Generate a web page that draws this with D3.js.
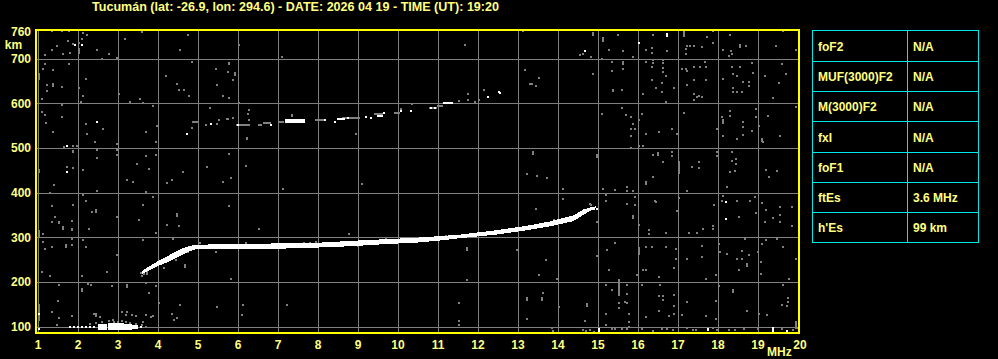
<!DOCTYPE html>
<html>
<head>
<meta charset="utf-8">
<script src="https://cdn.jsdelivr.net/npm/d3@7"></script>
<style>
  html, body { margin: 0; padding: 0; background: #000; }
  svg { display: block; }
  text { font-family: "Liberation Sans", Arial, sans-serif; font-weight: bold; }
</style>
</head>
<body>
<svg id="ionogram" width="998" height="359"></svg>
<script>
// ---- data ----
const title = "Tucumán (lat: -26.9, lon: 294.6) - DATE: 2026 04 19 - TIME (UT): 19:20";
const freqTicks = [1, 2, 3, 4, 5, 6, 7, 8, 9, 10, 11, 12, 13, 14, 15, 16, 17, 18, 19, 20];
const heightTicks = [100, 200, 300, 400, 500, 600, 700, 760];
const gridHeights = [100, 200, 300, 400, 500, 600, 700];

const paramNames = ["foF2", "MUF(3000)F2", "M(3000)F2", "fxI", "foF1", "ftEs", "h'Es"];
const paramValues = ["N/A", "N/A", "N/A", "N/A", "N/A", "3.6 MHz", "99 km"];

// main F trace (MHz, lower km, upper km)
const traceFreq = [3.62, 3.80, 4.00, 4.20, 4.40, 4.60, 4.80, 4.95, 5.50, 6.20, 7.00, 8.10, 8.90, 9.60, 10.50, 11.00, 11.60, 12.50, 13.20, 13.80, 14.40, 14.65, 14.80, 14.95];
const traceLow  = [218, 226, 235, 242, 251, 260, 268, 273, 273, 273, 274, 277, 280, 284, 288, 292, 298, 306, 315, 324, 336, 350, 358, 365];
const traceHigh = [225, 235, 246, 255, 265, 274, 280, 283, 284, 285, 286, 288, 292, 295, 299, 302, 306, 316, 325, 335, 349, 362, 366, 369];

// second hop echoes (white and grey pieces)
const hop2From = [5.32, 5.99, 6.80, 7.18, 8.15, 8.40, 8.48, 8.74, 9.18, 9.30, 9.48, 9.64, 10.06, 10.30, 10.80, 10.90, 11.14, 12.24, 12.54];
const hop2To   = [5.35, 6.04, 6.84, 7.67, 8.18, 8.44, 8.68, 8.77, 9.22, 9.33, 9.64, 9.67, 10.10, 10.33, 10.85, 10.95, 11.39, 12.27, 12.57];
const hop2Km   = [553, 552, 551, 560, 562, 559, 564, 566, 569, 567, 572, 579, 582, 583, 589, 589, 600, 613, 624];
const hop2Span = [4, 4, 4, 9, 4, 4, 4, 4, 4, 4, 4, 4, 4, 4, 4, 4, 5, 4, 4];
const hop2GreyFrom = [4.90, 5.74, 5.97, 6.50, 6.64, 7.00, 7.93, 8.60, 9.40, 9.90, 10.06, 10.78, 11.00, 11.52, 11.73, 11.73, 11.91, 12.00, 12.14, 14.80];
const hop2GreyTo   = [5.00, 5.80, 6.31, 6.60, 6.85, 7.14, 8.20, 9.06, 9.62, 10.06, 10.12, 10.98, 11.14, 11.56, 11.77, 11.77, 11.95, 12.04, 12.18, 14.86];
const hop2GreyKm   = [557, 564, 551, 551, 556, 557, 562, 566, 575, 579, 586, 589, 594, 605, 620, 607, 603, 607, 629, 372];

// sporadic E near 100 km
const esDotFreq = [1.80, 1.90, 2.00, 2.10, 2.20, 2.32, 2.40];
const esDotKm   = [100, 100, 100, 100, 100, 100, 100];
const esFrom = [2.52, 2.75, 2.90, 3.15, 3.35, 3.56];
const esTo   = [2.75, 2.90, 3.15, 3.35, 3.50, 3.62];
const esLow  = [93, 92, 91, 92, 94, 96];
const esHigh = [106, 108, 107, 106, 103, 101];
const esGrey = [[1.49, 103], [2.30, 106], [2.45, 108], [2.60, 110], [2.80, 112], [2.90, 110], [3.00, 110], [3.10, 112], [3.20, 109], [3.30, 108], [3.45, 106], [3.60, 103], [2.40, 128], [2.47, 124], [3.10, 133], [3.20, 126], [3.45, 124], [3.72, 126], [3.70, 99]];

// grey noise dots (MHz, km)
const noiseLow = [
  [1.35,761],[1.60,761],[1.79,761],[2.14,756],[2.23,752],[2.10,744],[1.77,739],[2.04,735],[2.04,720],[2.04,714],[1.88,732],[1.48,729],[1.35,719],[1.18,707],[1.64,711],[1.81,713],[2.49,720],[2.79,711],[2.99,702],[2.60,698],[3.18,743],[3.60,759],[4.56,720],[4.75,752],
  [1.18,687],[1.79,687],[1.39,674],[1.14,677],[2.21,655],[1.39,642],[1.39,638],[1.24,640],[1.60,637],[2.04,633],[1.23,627],[1.10,610],[1.60,598],[1.60,595],[2.14,616],[2.08,603],[3.04,620],[3.31,603],[3.56,609],[3.63,601],[4.85,692],[4.21,661],[4.49,642],[4.54,630],[4.66,629],[4.79,616],[5.49,640],[5.46,677],[5.64,616],
  [1.10,581],[1.18,573],[1.60,570],[1.21,555],[1.39,536],[2.21,553],[2.63,543],[2.23,531],[2.43,514],[1.89,503],[1.98,503],[1.66,501],[1.88,494],[1.88,490],[2.48,496],[2.99,508],[2.99,496],[3.96,512],[3.71,535],[3.98,549],[3.89,594],[4.89,557],[4.85,544],[5.21,551],[5.48,553],[5.54,563],[5.31,589],
  [1.41,417],[1.89,454],[2.14,451],[1.74,456],[2.49,477],[2.99,484],[3.71,482],[3.96,484],[3.49,464],[3.79,453],[4.64,447],[5.24,456],[5.63,424],[4.24,421],[4.35,427],[3.24,427],[3.39,424],[2.49,403],[1.31,398],[2.14,395],[2.21,382],[1.89,372],[1.35,369],
  [1.43,345],[1.54,335],[1.54,331],[1.35,334],[1.64,323],[1.64,319],[1.85,337],[1.85,319],[1.85,315],[2.29,319],[2.35,356],[2.46,360],[2.46,356],[2.99,346],[3.54,339],[3.64,373],[3.89,390],[3.71,402],[4.49,352],[4.49,348],[4.24,328],[4.54,324],[3.96,310],[4.39,297],
  [1.14,308],[1.14,289],[1.18,273],[1.35,278],[1.71,282],[1.71,279],[1.85,297],[1.85,283],[2.14,293],[2.21,278],[2.98,261],[3.64,293],[1.10,221],[1.31,213],[2.10,213],[2.10,184],[2.10,180],[1.54,194],[2.27,196],[2.33,192],[2.85,191],[3.24,192],[3.24,189],[3.71,198],[3.96,191],[3.79,176],
  [4.04,152],[4.56,148],[5.49,144],[5.54,278],[5.46,267],[4.68,237],[4.68,233],[3.66,221],[3.66,217],[3.74,222],[3.74,218],[2.73,221],[1.52,157],[1.35,133],[1.54,120],[1.85,124],[2.46,127],[2.56,122],[2.88,114],[3.35,126],[3.23,133],[3.64,111],[3.83,122],[3.89,124],[4.35,127],[4.49,118],[4.41,114],
  [3.58,219],[3.60,214],[4.15,232],[4.45,250],[4.75,266],[5.05,288]
];
const noiseMid = [
  [6.04,730],[7.10,703],[5.79,691],[5.79,687],[5.75,670],[5.93,668],[5.93,664],[5.89,652],[5.79,611],[6.04,601],[6.29,585],[6.27,575],[5.89,566],[6.29,563],[5.74,564],[7.35,574],[7.35,571],[6.24,523],[6.24,520],[8.96,531],
  [5.79,486],[6.20,460],[5.85,433],[9.10,418],[7.14,408],[5.79,369],[6.54,319],[8.79,306],[5.85,207],[6.14,148],[7.24,148],[6.10,126],[10.35,598],
  [5.75,283],[6.22,286],[7.66,288],[7.80,288],[7.95,289],[8.55,282],[9.02,281],[9.70,296],[10.20,296]
];
const noiseHigh = [
  [11.68,730],[13.14,761],[14.56,707],[14.64,711],[14.85,703],[15.10,698],[13.18,674],[13.54,656],[13.31,644],[13.35,644],[13.46,639],[14.89,666],[15.10,575],[13.24,442],[13.49,438],[13.74,433],[14.14,408],[14.14,386],[15.14,408],[15.20,395],[15.20,382],
  [13.45,363],[14.99,334],[14.81,375],[14.85,371],[12.99,271],[13.70,248],[13.54,216],[13.99,207],[13.64,176],[11.74,203],[14.99,257],[15.20,194],[15.20,129],[11.54,152],[11.54,112],[11.54,103],[13.24,164],[13.24,159],[13.60,164],[13.60,159],[14.04,143],[13.24,117],
  [14.70,112],[13.85,97],[13.89,90],[14.64,93],[14.72,90],[14.80,93],[14.90,88],[15.21,103],[11.20,302],[12.30,311],[13.10,319],[13.90,338]
];
const noiseTop = [
  [15.52,752],[16.39,752],[15.29,720],[15.64,717],[16.21,720],[16.35,724],[16.35,713],[16.74,717],[15.89,703],[17.23,729],[17.31,729],[17.41,729],[17.21,722],[17.21,709],[17.60,726],[17.74,749],[17.88,734],[17.89,761],[18.31,752],[18.13,719],[18.33,717],[18.35,711],[18.29,706],[18.71,729],[19.64,761],[19.46,729],[19.96,720],
  [15.35,692],[15.64,692],[15.64,687],[15.35,672],[15.64,677],[15.60,629],[16.21,692],[16.39,697],[16.39,689],[16.64,697],[16.64,689],[16.64,679],[16.64,670],[16.35,682],[16.71,661],[16.35,651],[16.60,645],[16.46,633],[16.91,633],[16.14,620],[16.60,625],[16.71,603],
  [17.10,677],[17.21,677],[17.24,672],[17.41,682],[17.56,682],[17.68,692],[17.71,682],[17.41,651],[17.24,640],[17.71,651],[17.41,620],[17.49,614],[17.62,613],[17.41,607],[17.54,616],[18.13,655],[18.35,682],[18.38,665],[18.48,661],[18.56,682],[18.38,635],[18.38,624],[18.49,625],[18.60,625],[18.64,648],[18.79,648],[18.79,639],[18.85,691],[18.89,668],[19.18,661],[19.54,646],[19.60,687],[19.71,665],[19.39,611]
];
const noiseUpper = [
  [15.60,589],[15.71,573],[15.85,568],[15.89,553],[15.85,542],[15.93,542],[15.83,527],[16.04,563],[16.10,575],[16.21,531],[16.54,536],[16.85,543],[16.99,531],[17.16,579],[18.10,570],[18.31,583],[18.31,572],[17.99,542],[18.14,527],[18.49,520],[18.64,557],[18.64,546],[18.64,529],[18.85,538],[18.96,587],[18.96,568],[19.04,548],[19.14,512],[19.27,572],[19.56,527],[19.96,592],
  [15.85,500],[16.04,505],[16.14,503],[16.39,484],[16.52,484],[16.52,488],[16.85,490],[16.85,481],[16.64,469],[17.35,456],[17.54,469],[17.54,454],[17.98,490],[17.98,481],[18.35,490],[18.35,471],[18.46,474],[18.31,447],[18.43,449],[18.46,464],[19.21,451],[19.49,449],[19.29,434],[16.39,434],[15.43,406],[15.74,412],[15.74,404],[15.89,404],[17.24,403],[18.24,412]
];
const noiseLower = [
  [15.74,375],[15.93,390],[15.93,372],[16.04,328],[16.29,315],[16.29,308],[16.71,310],[16.99,358],[17.04,387],[17.29,310],[17.49,310],[17.64,319],[17.91,372],[17.89,326],[17.89,319],[18.13,392],[18.10,380],[18.49,382],[18.54,345],[18.81,382],[18.93,390],[18.96,355],[19.10,377],[19.21,360],[19.18,335],[19.39,343],[19.56,367],[19.56,349],[19.56,335],[19.85,367],[19.85,325],[16.43,380],[16.46,378],
  [15.23,271],[15.43,288],[15.29,226],[16.21,278],[16.35,278],[16.71,278],[16.96,274],[16.13,226],[16.21,226],[16.54,211],[16.91,231],[16.96,252],[15.99,216],[17.24,252],[17.60,280],[17.60,256],[17.71,207],[17.96,215],[18.04,285],[18.06,267],[18.24,263],[18.49,252],[18.60,252],[18.60,268],[18.68,295],[18.54,226],[18.79,261],[19.02,267],[19.10,285],[19.08,245],[19.08,218],[19.21,293],[19.49,297],[19.64,278],[19.79,207],[19.96,252],
  [15.35,181],[15.74,194],[15.74,172],[15.68,154],[15.74,152],[15.54,152],[15.54,141],[15.79,129],[15.79,111],[15.79,100],[16.10,194],[16.21,122],[16.56,194],[16.54,168],[16.64,168],[16.64,159],[16.91,170],[16.91,146],[16.91,129],[16.79,124],[16.54,135],[17.23,154],[17.10,126],[17.71,124],[17.96,157],[17.96,117],[18.04,191],[18.73,135],[19.04,129],[19.24,126],[19.60,148],[19.77,164],[19.77,155],[19.73,146],[19.64,194],[19.96,111],
  [15.35,94],[15.43,94],[15.60,94],[15.74,94],[16.10,94],[16.39,89],[16.60,94],[16.73,94],[16.89,92],[17.23,96],[17.38,92],[17.46,92],[17.88,96],[17.98,92],[18.29,92],[18.43,92],[18.66,94],[19.02,94],[19.62,94],[19.89,92],[19.98,96]
];
const whiteDots = [[2.10,730],[1.94,730],[2.49,558],[4.74,531],[1.74,505],[1.74,447],[16.04,734],[18.21,378],[18.20,341],[14.68,717],[1.03,129],[1.03,94],[12.54,626],[14.90,364],[14.98,362]];

// vertical streaks (MHz, low km, high km)
const streakFreq = [1.03, 1.03, 1.03, 1.03, 2.04, 15.54, 18.39, 18.73, 17.04, 16.04, 15.39, 18.14, 16.22, 15.89, 19.10, 14.89, 15.14, 13.39, 14.98, 11.74, 14.74, 17.16, 18.56, 3.00, 19.96];
const streakLow  = [111, 300, 444, 653, 710, 170, 175, 232, 442, 259, 624, 553, 415, 340, 515, 750, 736, 484, 478, 268, 144, 748, 724, 96, 94];
const streakHigh = [150, 315, 453, 668, 724, 207, 184, 242, 471, 278, 631, 564, 425, 350, 523, 760, 748, 492, 486, 278, 152, 762, 733, 104, 110];
const whiteStreakFreq = [16.74, 19.39, 15.03, 17.76, 19.74];
const whiteStreakLow  = [750, 88, 88, 90, 88];
const whiteStreakHigh = [758, 99, 96, 96, 93];

// ---- drawing ----
const svg = d3.select("#ionogram");
const yellow = "#ffff00";
const label = "#ffff80";
const grey = "#808080";

const x = d3.scaleLinear().domain([1, 20]).range([37.5, 797.5]);
const y = d3.scaleLinear().domain([100, 700]).range([326.5, 58.5]);
const plotTop = 30, plotBottom = 333, plotLeft = 36, plotRight = 799;

svg.append("text")
  .attr("x", 92).attr("y", 11)
  .attr("fill", label).attr("font-size", 12)
  .attr("textLength", 407).attr("lengthAdjust", "spacingAndGlyphs")
  .text(title);

// grid (via axes)
const gridX = svg.append("g")
  .attr("transform", `translate(0,${plotBottom})`)
  .call(d3.axisBottom(x).tickValues(freqTicks).tickSize(-(plotBottom - plotTop)).tickFormat(""));
gridX.select(".domain").remove();
gridX.selectAll("line").attr("stroke", grey).attr("shape-rendering", "crispEdges");

const gridY = svg.append("g")
  .attr("transform", `translate(${plotLeft},0)`)
  .call(d3.axisLeft(y).tickValues(gridHeights).tickSize(-(plotRight - plotLeft)).tickFormat(""));
gridY.select(".domain").remove();
gridY.selectAll("line").attr("stroke", grey).attr("shape-rendering", "crispEdges");

// echoes
const plot = svg.append("g").attr("shape-rendering", "crispEdges");

const dot = (data, color) => plot.append("g").selectAll("rect").data(data).enter().append("rect")
  .attr("x", d => Math.round(x(d[0])) - 1)
  .attr("y", d => Math.round(y(d[1])) - 1)
  .attr("width", 2).attr("height", 2)
  .attr("fill", color);

[noiseLow, noiseMid, noiseHigh, noiseTop, noiseUpper, noiseLower, esGrey].forEach(n => dot(n, grey));

plot.append("g").selectAll("rect").data(streakFreq).enter().append("rect")
  .attr("x", d => Math.round(x(d)) - 1)
  .attr("y", (d, i) => Math.round(y(streakHigh[i])))
  .attr("width", 2)
  .attr("height", (d, i) => Math.max(2, Math.round(y(streakLow[i]) - y(streakHigh[i]))))
  .attr("fill", grey);

plot.append("g").selectAll("rect").data(hop2GreyFrom).enter().append("rect")
  .attr("x", d => Math.round(x(d)))
  .attr("y", (d, i) => Math.round(y(hop2GreyKm[i])) - 1)
  .attr("width", (d, i) => Math.max(2, Math.round(x(hop2GreyTo[i]) - x(d))))
  .attr("height", 2)
  .attr("fill", grey);

// main trace
const trace = traceFreq.map((f, i) => ({ f, lo: traceLow[i], hi: traceHigh[i] }));
plot.append("path")
  .datum(trace)
  .attr("d", d3.area().x(d => x(d.f)).y0(d => y(d.lo)).y1(d => y(d.hi)))
  .attr("fill", "#fff");

plot.append("g").selectAll("rect").data(hop2From).enter().append("rect")
  .attr("x", d => Math.round(x(d)))
  .attr("y", (d, i) => Math.round(y(hop2Km[i] + hop2Span[i] / 2)))
  .attr("width", (d, i) => Math.max(2, Math.round(x(hop2To[i]) - x(d))))
  .attr("height", (d, i) => Math.max(2, Math.round(hop2Span[i] * (y(0) - y(1)))))
  .attr("fill", "#fff");

plot.append("g").selectAll("rect").data(esDotFreq).enter().append("rect")
  .attr("x", d => Math.round(x(d)) - 1)
  .attr("y", (d, i) => Math.round(y(esDotKm[i])) - 1)
  .attr("width", 2).attr("height", 2)
  .attr("fill", "#fff");

plot.append("g").selectAll("rect").data(esFrom).enter().append("rect")
  .attr("x", d => Math.round(x(d)))
  .attr("y", (d, i) => Math.round(y(esHigh[i])))
  .attr("width", (d, i) => Math.max(2, Math.round(x(esTo[i]) - x(d))))
  .attr("height", (d, i) => Math.round(y(esLow[i]) - y(esHigh[i])))
  .attr("fill", "#fff");

dot(whiteDots, "#fff");

plot.append("g").selectAll("rect").data(whiteStreakFreq).enter().append("rect")
  .attr("x", d => Math.round(x(d)) - 1)
  .attr("y", (d, i) => Math.round(y(whiteStreakHigh[i])))
  .attr("width", 2)
  .attr("height", (d, i) => Math.round(y(whiteStreakLow[i]) - y(whiteStreakHigh[i])))
  .attr("fill", "#fff");

// frame
svg.append("rect")
  .attr("x", plotLeft).attr("y", plotTop)
  .attr("width", plotRight - plotLeft).attr("height", plotBottom - plotTop)
  .attr("fill", "none").attr("stroke", yellow).attr("stroke-width", 2)
  .attr("shape-rendering", "crispEdges");

// axis labels
const xAxis = svg.append("g")
  .attr("transform", "translate(0,348.5)")
  .call(d3.axisBottom(x).tickValues(freqTicks).tickSize(0).tickPadding(0));
xAxis.select(".domain").remove();
xAxis.selectAll("text")
  .attr("y", 0).attr("dy", null)
  .attr("dx", d => d === 20 ? 2 : 0)
  .attr("fill", label).attr("font-size", 12)
  .attr("font-family", "Liberation Sans, Arial, sans-serif");

svg.append("text")
  .attr("x", 767).attr("y", 356)
  .attr("fill", label).attr("font-size", 12)
  .text("MHz");

const yAxis = svg.append("g")
  .attr("transform", "translate(31,0)")
  .call(d3.axisLeft(y).tickValues(heightTicks).tickSize(0).tickPadding(0));
yAxis.select(".domain").remove();
yAxis.selectAll("text")
  .attr("fill", label).attr("font-size", 12)
  .attr("font-family", "Liberation Sans, Arial, sans-serif");

svg.append("text")
  .attr("x", 13.5).attr("y", 48.5)
  .attr("text-anchor", "middle")
  .attr("fill", label).attr("font-size", 12)
  .text("km");

// parameter table
const tbl = { x: 812, y: 30.5, w: 166, rowH: 30.3, split: 907 };
const table = svg.append("g").attr("shape-rendering", "crispEdges");
const rowY = d3.scaleBand().domain(paramNames).range([tbl.y, tbl.y + tbl.rowH * paramNames.length]);

table.append("rect")
  .attr("x", tbl.x + 0.5).attr("y", tbl.y)
  .attr("width", tbl.w).attr("height", rowY.range()[1] - tbl.y)
  .attr("fill", "none").attr("stroke", "#00e8e8");
table.append("line")
  .attr("x1", tbl.split + 0.5).attr("x2", tbl.split + 0.5)
  .attr("y1", tbl.y).attr("y2", rowY.range()[1])
  .attr("stroke", "#00e8e8");
table.selectAll(".row-line").data(paramNames.slice(1)).enter().append("line")
  .attr("x1", tbl.x).attr("x2", tbl.x + tbl.w)
  .attr("y1", d => Math.round(rowY(d)) + 0.5).attr("y2", d => Math.round(rowY(d)) + 0.5)
  .attr("stroke", "#00e8e8");

table.selectAll(".pname").data(paramNames).enter().append("text")
  .attr("x", tbl.x + 6)
  .attr("y", d => rowY(d) + rowY.bandwidth() / 2 + 5)
  .attr("fill", label).attr("font-size", 12)
  .text(d => d);
table.selectAll(".pval").data(paramValues).enter().append("text")
  .attr("x", tbl.split + 6)
  .attr("y", (d, i) => rowY(paramNames[i]) + rowY.bandwidth() / 2 + 5)
  .attr("fill", label).attr("font-size", 12)
  .text(d => d);
</script>
</body>
</html>
